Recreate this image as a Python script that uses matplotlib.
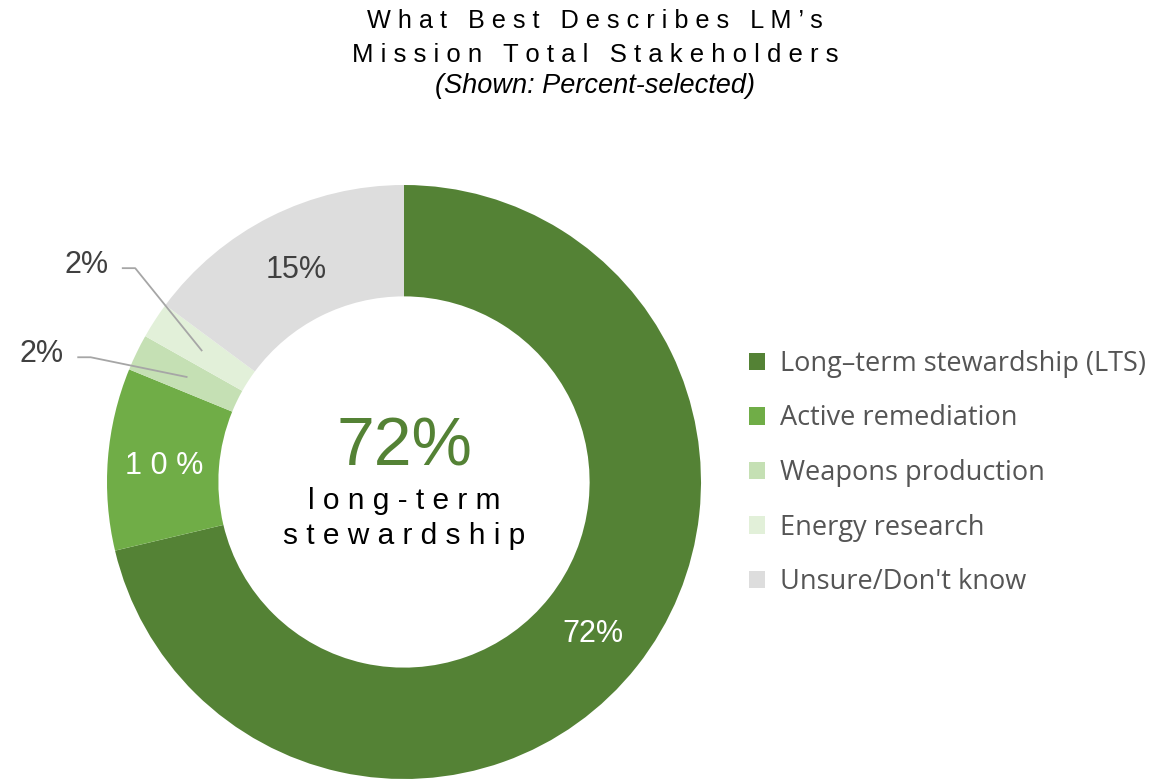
import numpy as np
import matplotlib
matplotlib.use("Agg")
import matplotlib.pyplot as plt
from matplotlib.patches import Patch

labels = ["Long\u2013term stewardship (LTS)", "Active remediation", "Weapons production",
          "Energy research", "Unsure/Don't know"]
values = [72, 10, 2, 2, 15]
colors = ["#548235", "#70AD47", "#C5E0B4", "#E2F0D9", "#DDDDDD"]
# which slices get labels inside the ring, which get a leader line
inside = [True, True, False, False, True]
label_colors = ["white", "white", "#404040", "#404040", "#404040"]
label_spaced = [False, True, False, False, False]
# text offsets (data units) for the outside labels, keyed by slice index
outside_text = {2: (-1.22, 0.43), 3: (-1.07, 0.73)}

title_lines = ["What Best Describes LM\u2019s", "Mission Total Stakeholders"]
subtitle = "(Shown: Percent-selected)"
center_value = "72%"
center_lines = ["long-term", "stewardship"]


def spaced(s):
    return " ".join(s)


plt.rcParams["font.family"] = ["Liberation Sans", "DejaVu Sans"]

W, H = 1154, 779
fig = plt.figure(figsize=(W / 100, H / 100), dpi=100)

cx, cy, R = 404, 482, 297
ax = fig.add_axes([(cx - R) / W, (H - cy - R) / H, 2 * R / W, 2 * R / H])

wedges, _ = ax.pie(values, colors=colors, startangle=90, counterclock=False,
                   radius=1, wedgeprops=dict(width=0.375, linewidth=0))
ax.set_xlim(-1, 1)
ax.set_ylim(-1, 1)
ax.set_aspect("equal")
ax.axis("off")

for i, w in enumerate(wedges):
    mid = np.deg2rad((w.theta1 + w.theta2) / 2)
    r = 0.81
    px, py = r * np.cos(mid), r * np.sin(mid)
    txt = f"{values[i]}%"
    if label_spaced[i]:
        txt = spaced(txt)
    if inside[i]:
        ax.text(px, py - 0.01, txt, ha="center", va="center", fontsize=22,
                color=label_colors[i])
    else:
        tx, ty = outside_text[i]
        ax.text(tx, ty, txt, ha="center", va="center", fontsize=22,
                color=label_colors[i], clip_on=False)
        x0 = tx + 0.12
        ax.plot([x0, x0 + 0.045, px], [ty - 0.01, ty - 0.01, py],
                color="#A6A6A6", lw=1.3, clip_on=False, solid_capstyle="butt")

ax.text(0, 0.057, center_value, ha="center", va="baseline", fontsize=49,
        color="#548235")
ax.text(0, -0.091, spaced(center_lines[0]), ha="center", va="baseline",
        fontsize=21.5, color="black")
ax.text(0, -0.209, spaced(center_lines[1]), ha="center", va="baseline",
        fontsize=21.5, color="black")

# title
fig.text(595 / W, 1 - 21 / H, spaced(title_lines[0]), ha="center", va="center",
         fontsize=18.2, color="black")
fig.text(595 / W, 1 - 55 / H, spaced(title_lines[1]), ha="center", va="center",
         fontsize=18.5, color="black")
fig.text(595 / W, 1 - 86 / H, subtitle, ha="center", va="center",
         fontsize=19.5, style="italic", color="black")

handles = [Patch(facecolor=c, edgecolor="none") for c in colors]
leg = fig.legend(handles, labels, loc="center left",
                 bbox_to_anchor=(749 / W, 1 - 473 / H), frameon=False,
                 handlelength=0.6, handleheight=0.6, handletextpad=0.55,
                 labelspacing=0.98, borderaxespad=0, borderpad=0,
                 prop={"family": "Open Sans", "size": 19.5})
for t in leg.get_texts():
    t.set_color("#555555")

fig.savefig("out.png", dpi=100)
